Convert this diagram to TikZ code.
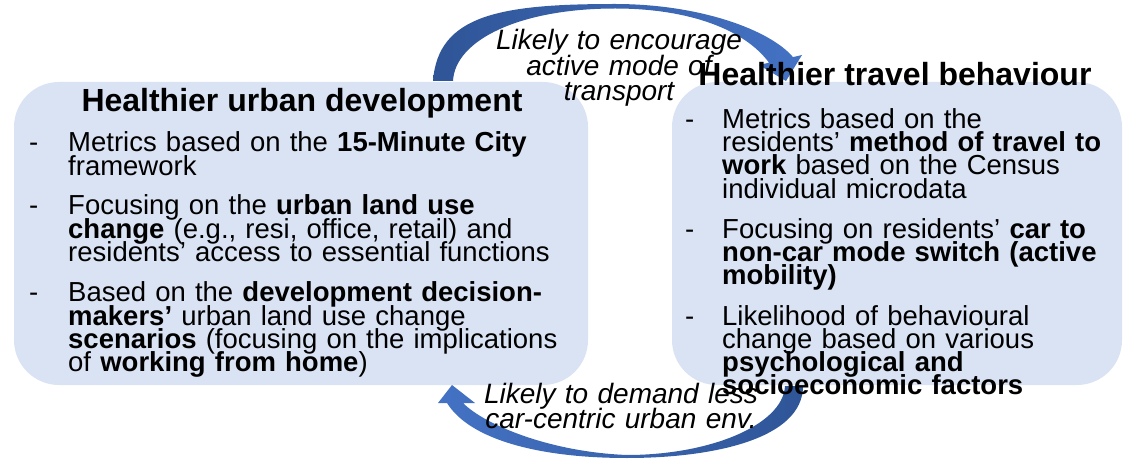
\documentclass[tikz,border=0pt]{standalone}
\usepackage{fontspec}
\setmainfont{Liberation Sans}

\definecolor{boxfill}{HTML}{DAE3F3}
\definecolor{arrowdark}{HTML}{2F5597}
\definecolor{arrowmid}{HTML}{A9BFE6}
\definecolor{arrowhead}{HTML}{4472C4}

% tight line pitch: lines may touch, as in the slide this comes from
\newcommand{\tightlines}{\lineskiplimit=-\maxdimen\lineskip=0pt}

\tikzset{
  panel/.style={rectangle, rounded corners=45pt, fill=boxfill, draw=none, inner sep=0pt},
  paneltitle/.style={anchor=base, inner sep=0pt, font=\fontsize{32}{36}\selectfont\bfseries},
  bulletmark/.style={anchor=base west, inner sep=0pt, font=\fontsize{27.5}{23.33}\selectfont},
  itemtext/.style={anchor=base west, inner sep=0pt, text width=560pt, align=left,
                   font=\fontsize{27.5}{23.33}\selectfont\tightlines},
  linklabel/.style={anchor=base, inner sep=0pt, text width=340pt, align=center,
                    font=\fontsize{28}{25.5}\selectfont\itshape\tightlines},
}

\begin{document}
\begin{tikzpicture}[x=1pt, y=-1pt]
  \useasboundingbox (0,0) rectangle (1127,462);

  % the two panels
  \node[panel, minimum width=574pt, minimum height=303pt] (urban) at (301,233.5) {};
  \node[panel, minimum width=450pt, minimum height=303pt] (travel) at (897,233.5) {};

  % curved arrow: urban development -> travel behaviour
  \shade[left color=arrowdark, middle color=arrowmid, right color=arrowhead]
    (433,81) .. controls (438,15) and (500,4) .. (615,4)
    .. controls (700,4) and (770,30) .. (793,57.1)
    -- (802,55) -- (786,81) -- (759,65) -- (769,62.7)
    .. controls (745,30) and (690,8.5) .. (615,8.5)
    .. controls (520,8.5) and (455,40) .. (453,81) -- cycle;

  % curved arrow: travel behaviour -> urban development
  \shade[left color=arrowhead, middle color=arrowmid, right color=arrowdark]
    (803,386) .. controls (803,440) and (710,458) .. (627,458)
    .. controls (540,458) and (470,440) .. (447,403)
    -- (438,403) -- (452,385) -- (475,403) -- (463,403)
    .. controls (485,425) and (550,452) .. (627,455)
    .. controls (710,455) and (783,425) .. (785,386) -- cycle;

  % panel titles
  \node[paneltitle] (urbantitle) at (302,112) {Healthier urban development};
  \node[paneltitle] (traveltitle) at (895,86) {Healthier travel behaviour};

  % left panel items
  \node[bulletmark] (ua) at (29,151.7) {-};
  \node[itemtext] (uatext) at (68,151.7) {Metrics based on the \textbf{15-Minute City}\\framework};
  \node[bulletmark] (ub) at (29,215) {-};
  \node[itemtext] (ubtext) at (68,215) {Focusing on the \textbf{urban land use}\\\textbf{change} (e.g., resi, office, retail) and\\residents’ access to essential functions};
  \node[bulletmark] (uc) at (29,301.7) {-};
  \node[itemtext] (uctext) at (68,301.7) {Based on the \textbf{development decision-}\\\textbf{makers’} urban land use change\\\textbf{scenarios} (focusing on the implications\\of \textbf{working from home})};

  % right panel items
  \node[bulletmark] (ta) at (685,128.3) {-};
  \node[itemtext] (tatext) at (722,128.3) {Metrics based on the\\residents’ \textbf{method of travel to}\\\textbf{work} based on the Census\\individual microdata};
  \node[bulletmark] (tb) at (685,238.3) {-};
  \node[itemtext] (tbtext) at (722,238.3) {Focusing on residents’ \textbf{car to}\\\textbf{non-car mode switch (active}\\\textbf{mobility)}};
  \node[bulletmark] (tc) at (685,325) {-};
  \node[itemtext] (tctext) at (722,325) {Likelihood of behavioural\\change based on various\\\textbf{psychological and}\\\textbf{socioeconomic factors}};

  % arrow labels
  \node[linklabel] (toplabel) at (619,50) {Likely to encourage\\active mode of\\transport};
  \node[linklabel] (bottomlabel) at (621,403) {Likely to demand less\\car-centric urban env.};
\end{tikzpicture}
\end{document}
